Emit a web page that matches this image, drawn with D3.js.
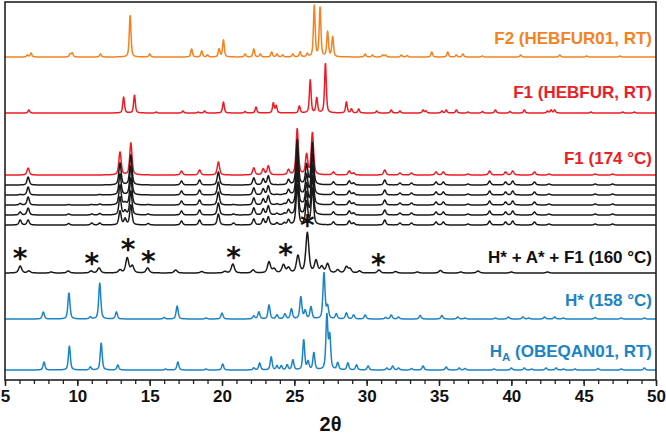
<!DOCTYPE html>
<html>
<head>
<meta charset="utf-8">
<script src="https://cdn.jsdelivr.net/npm/d3@7"></script>
<style>
  html, body { margin: 0; padding: 0; background: #fff; }
  svg { display: block; }
  text { font-family: "Liberation Sans", Arial, sans-serif; font-weight: bold; }
</style>
</head>
<body>
<svg id="chart" width="666" height="434"></svg>
<script>
// ---------------- DATA (peak lists: [2θ, intensity]) ----------------
const xTicks = [5, 10, 15, 20, 25, 30, 35, 40, 45, 50];
const xLabel = "2θ";

const seriesNames = [
  "F2 (HEBFUR01, RT)",
  "F1 (HEBFUR, RT)",
  "F1 (174 °C)",
  "H* + A* + F1 (160 °C)",
  "H* (158 °C)",
  "HA (OBEQAN01, RT)"
];
// vertical stacking offsets (intensity units) of each pattern
const offF2 = 323, offF1rt = 267, off174 = 205, off160 = 107, offH = 61, offHA = 10;
const offBlack = [195, 185, 175, 165, 155];

const peaksF2 = [[6.55,2],[6.8,4],[9.5,3],[9.65,4],[11.6,3],[13.65,42],[15.0,3],[17.9,8],[18.6,6],[19.0,2],
  [19.8,8],[20.1,17],[21.6,3],[22.2,8],[22.65,3],[23.43,5],[23.8,3],[24.2,2],[24.9,3],[25.4,5],[25.9,3],
  [26.38,51],[26.78,49],[27.3,25],[27.65,20],[29.9,3],[30.4,2],[31.1,2],[31.3,2],[32.4,2],[32.8,1.5],
  [34.5,5],[35.6,5],[36.2,2],[36.65,3],[38.0,1],[40.65,2],[43.35,2],[45.2,1],[47.5,1]];

const peaksF1rt = [[6.65,3],[13.2,16],[13.95,18],[15.45,1],[17.3,2],[18.35,1],[18.8,2],[20.1,11],[21.6,1.5],
  [22.35,6],[23.55,10],[23.75,7],[25.35,7],[26.1,33],[26.55,15],[27.15,50],[28.6,11],[28.95,4],[29.45,4],
  [30.7,2],[31.7,3],[32.3,2],[33.9,3],[34.1,2],[35.2,2],[35.5,3],[36.2,3],[37.0,1],[38.0,1.5],[38.9,3],
  [39.9,1.5],[40.9,3],[42.5,2],[42.75,3],[43.0,3],[45.5,1],[47.7,1],[48.5,1]];

// high-temperature F1 patterns (red 174 °C and the five black scans beneath it) share positions
const hotPos = [6.05, 6.6, 9.4, 11.0, 11.55, 12.95, 13.3, 13.7, 14.9, 17.2, 18.45, 19.75, 20.8, 22.2, 22.85, 23.2,
  23.8, 24.3, 24.6, 25.2, 25.85, 26.25, 27.7, 28.8, 29.1, 31.25, 32.3, 33.1, 34.8, 35.3, 37.0, 38.5, 39.6, 40.1,
  41.6, 42.6, 45.8, 47.0];
const int174 = [0, 7, 0, 0, 0, 23, 0, 32, 0, 4, 5, 13, 0, 7, 6, 9, 0, 0, 5, 46, 20, 42, 3, 4, 2, 5, 2, 2, 3, 3, 1, 4, 3, 4, 3, 1, 1, 1];
const intB1  = [0, 8, 0, 0, 0, 22, 0, 30, 0, 4, 5, 13, 0, 7, 6, 9, 0, 0, 5, 45, 20, 42, 3, 4, 2, 5, 2, 2, 3, 3, 1, 4, 3, 4, 3, 1, 1, 1];
const intB2  = [0.5, 8, 0, 0, 0.5, 21, 0, 29, 0, 4, 5, 13, 0, 7, 6, 9, 0.5, 0.5, 5, 44, 20, 41, 3, 4, 2, 5, 2, 2, 3, 3, 1, 4, 3, 4, 3, 1, 1, 1];
const intB3  = [1.5, 8, 0.5, 0.5, 1, 20, 2, 27, 0.5, 4, 5, 13, 0.5, 7, 6, 9, 1, 1, 5, 43, 21, 40, 3, 4, 2, 5, 2, 2, 3, 3, 1, 4, 3, 4, 3, 1, 1, 1];
const intB4  = [3, 7, 1, 1, 1.5, 18, 4, 24, 1, 4, 5, 12, 1, 7, 6, 9, 1.5, 1.5, 5, 42, 22, 39, 3, 4, 2, 5, 2, 2, 3, 3, 1, 4, 3, 4, 3, 1, 1, 1];
const intB5  = [5, 5, 1.5, 2, 2, 14, 6, 20, 1.5, 4, 5, 11, 2, 6, 6, 8, 2, 2, 5, 40, 23, 37, 3, 4, 2, 5, 2, 2, 3, 3, 1, 4, 3, 4, 3, 1, 1, 1];

const peaks160 = [[6.05,7],[6.65,2],[8.2,1],[9.37,2],[10.95,2],[11.5,5],[12.95,3],[13.45,15],[13.8,7],[14.86,5],
  [16.8,3],[18.6,1.5],[20.2,1.5],[20.75,9],[22.15,3],[23.25,11],[23.6,4],[24.25,8],[24.6,5],[25.25,17],
  [25.9,40],[26.5,12],[26.9,6],[27.3,9],[28.0,3],[28.6,6],[28.85,4],[29.5,2],[30.85,3],[32.0,1.5],[33.5,1],
  [35.1,2.5],[36.5,1],[37.7,2],[40.0,1],[42.5,1]];

const peaksH = [[7.65,7],[9.42,26],[10.9,2],[11.55,36],[12.7,7],[16.0,1.5],[16.9,13],[18.9,1],[20.0,6],
  [22.2,3],[22.55,7],[23.25,14],[23.8,4],[24.35,5],[24.8,10],[25.45,22],[25.75,8],[26.15,12],[27.05,46],
  [27.3,12],[27.9,5],[28.6,6],[29.1,4],[29.9,4],[31.3,1.5],[31.7,4],[32.2,2],[33.7,3.5],[35.2,3.5],[36.3,2],
  [36.8,1],[38.9,1],[39.8,2],[40.8,2],[41.2,1],[42.3,2],[43.0,2],[43.6,1],[45.8,1.5],[47.6,1],[49.2,1]];

const peaksHA = [[7.7,8],[9.45,24],[10.9,3],[11.65,27],[12.8,5],[16.1,1],[16.95,8],[18.9,1],[20.05,6],
  [22.2,2],[22.6,7],[23.4,13],[23.8,4],[24.1,4],[24.5,5],[24.9,10],[25.65,30],[25.95,8],[26.35,17],
  [27.25,54],[27.45,33],[28.0,7],[28.7,7],[29.3,5],[30.1,4],[31.4,2],[31.8,4],[32.2,2],[33.1,1.5],[33.9,4],
  [35.5,3],[36.4,2],[36.8,1.5],[38.8,1],[40.0,2],[40.9,2],[41.4,1],[42.4,2],[43.1,2],[43.6,1],[44.4,1],
  [46.0,1.5],[47.6,1],[49.2,2]];

// asterisk annotations on the 160 °C pattern: [2θ, height above its baseline]
const starMarks = [[6.05,16],[11.0,11],[13.5,25],[14.9,13],[20.8,17],[24.4,20],[25.9,49],[30.8,10]];

// ---------------- CHART ----------------
const svg = d3.select("#chart");
const x = d3.scaleLinear().domain([5, 50]).range([5, 656]);
const y = d3.scaleLinear().domain([0, 378]).range([380, 2]);

const grid = d3.range(5, 50.0001, 0.02);
function pv(d, w) {
  const t = (d / w) * (d / w);
  return 0.55 / (1 + 4 * t) + 0.45 * Math.exp(-2.7726 * t);
}
function profile(peaks, width, offset) {
  return grid.map(g => {
    let s = 0;
    for (const [c, h] of peaks) {
      const d = g - c;
      if (Math.abs(d) < 3) s += h * pv(d, width);
    }
    return [g, offset + s];
  });
}
const line = d3.line().x(d => x(d[0])).y(d => y(d[1]));

const colOrange = "#f5821f", colRed = "#ee1c25", colBlack = "#1a1a1a", colBlue = "#1b84c6";

const traces = [
  { pts: profile(peaksF2, 0.14, offF2), color: colOrange, w: 1.5 },
  { pts: profile(peaksF1rt, 0.14, offF1rt), color: colRed, w: 1.5 },
  { pts: profile(hotPos.map((p, i) => [p, int174[i]]), 0.19, off174), color: colRed, w: 1.5 },
];
[intB1, intB2, intB3, intB4, intB5].forEach((arr, k) => {
  traces.push({ pts: profile(hotPos.map((p, i) => [p, arr[i]]), 0.19, offBlack[k]), color: colBlack, w: 1.5 });
});
traces.push({ pts: profile(peaks160, 0.25, off160), color: colBlack, w: 1.5 });
traces.push({ pts: profile(peaksH, 0.17, offH), color: colBlue, w: 1.5 });
traces.push({ pts: profile(peaksHA, 0.16, offHA), color: colBlue, w: 1.5 });

svg.append("g").selectAll("path").data(traces).join("path")
  .attr("d", d => line(d.pts))
  .attr("fill", "none")
  .attr("stroke", d => d.color)
  .attr("stroke-width", d => d.w)
  .attr("stroke-linejoin", "round");

// asterisks
svg.append("g").selectAll("text").data(starMarks).join("text")
  .attr("x", d => x(d[0]))
  .attr("y", d => y(off160 + d[1]) + 11)
  .attr("text-anchor", "middle")
  .style("font-family", "'DejaVu Sans', sans-serif")
  .style("font-weight", "bold")
  .style("font-size", "28px")
  .attr("fill", "#111")
  .text("*");

// series labels
const labelInfo = [
  { t: seriesNames[0], off: offF2, lift: 19, c: colOrange },
  { t: seriesNames[1], off: offF1rt, lift: 21, c: colRed },
  { t: seriesNames[2], off: off174, lift: 17, c: colRed },
  { t: seriesNames[3], off: off160, lift: 16, c: "#111" },
  { t: seriesNames[4], off: offH, lift: 19, c: colBlue },
];
svg.append("g").selectAll("text").data(labelInfo).join("text")
  .attr("x", 652)
  .attr("y", d => y(d.off + d.lift) + 6)
  .attr("text-anchor", "end")
  .style("font-size", "17px")
  .attr("fill", d => d.c)
  .text(d => d.t);
// HA label with subscript
const ha = svg.append("text")
  .attr("x", 652).attr("y", y(offHA + 19) + 6)
  .attr("text-anchor", "end")
  .style("font-size", "17px")
  .attr("fill", colBlue);
ha.append("tspan").text("H");
ha.append("tspan").attr("dy", 4).style("font-size", "11.5px").text("A");
ha.append("tspan").attr("dy", -4).text(" (OBEQAN01, RT)");

// axes
const minor = d3.axisBottom(x).tickValues(d3.range(5, 51, 1)).tickSize(4).tickFormat("");
svg.append("g").attr("transform", "translate(0,380)").call(minor)
  .call(g => g.select(".domain").remove())
  .call(g => g.selectAll("line").attr("stroke", "#222").attr("stroke-width", 1.3));
const major = d3.axisBottom(x).tickValues(xTicks).tickSize(6).tickPadding(4).tickFormat(d3.format("d"));
svg.append("g").attr("transform", "translate(0,380)").call(major)
  .call(g => g.select(".domain").remove())
  .call(g => g.selectAll("line").attr("stroke", "#222").attr("stroke-width", 1.5))
  .call(g => g.selectAll("text").attr("fill", "#111").style("font-size", "17px")
     .style("font-family", "'Liberation Sans', Arial, sans-serif").style("font-weight", "bold"));

// frame
svg.append("rect").attr("x", x(5)).attr("y", y(378))
  .attr("width", x(50) - x(5)).attr("height", y(0) - y(378))
  .attr("fill", "none").attr("stroke", "#222").attr("stroke-width", 1.6);

svg.append("text").attr("x", (x(5) + x(50)) / 2).attr("y", 431)
  .attr("text-anchor", "middle").style("font-size", "20px").attr("fill", "#111")
  .text(xLabel);
</script>
</body>
</html>
